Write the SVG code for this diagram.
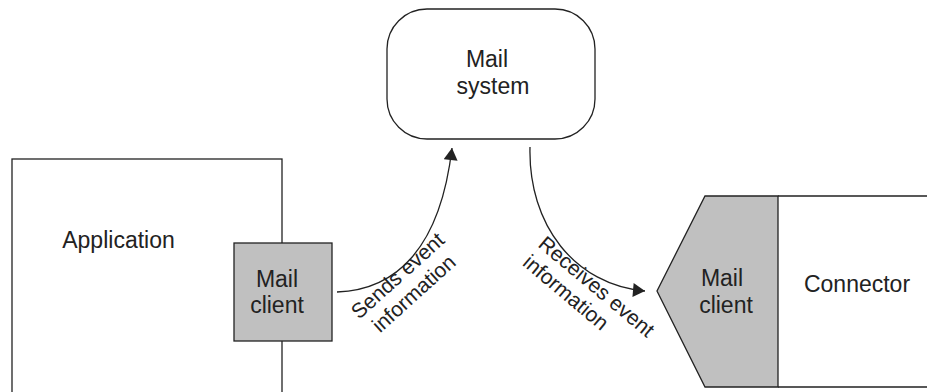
<svg xmlns="http://www.w3.org/2000/svg" width="927" height="392" viewBox="0 0 927 392">
<defs>
<style>
.shape{fill:#fff;stroke:#222;stroke-width:1.3}
.gray{fill:#c0c0c0;stroke:#222;stroke-width:1.3}
.lbl{font-family:"Liberation Sans",Arial,sans-serif;font-size:23px;fill:#222}
.elbl{font-family:"Liberation Sans",Arial,sans-serif;font-size:21px;fill:#222}
.conn{fill:none;stroke:#222;stroke-width:1.3}
</style>
<marker id="arrow" markerUnits="userSpaceOnUse" markerWidth="14" markerHeight="14" viewBox="0 0 12 14" refX="12" refY="7" orient="auto">
<path d="M0,0 L12,7 L0,14 Z" fill="#222"/>
</marker>
</defs>
<rect width="927" height="392" fill="#fff"/>
<g id="application">
<rect class="shape" x="12" y="159" width="270" height="260"/>
<text class="lbl" x="118.5" y="248" text-anchor="middle">Application</text>
</g>
<g id="mail-client-left">
<rect class="gray" x="234" y="243" width="98" height="98"/>
<text class="lbl" x="277" y="287" text-anchor="middle">Mail</text>
<text class="lbl" x="277" y="313" text-anchor="middle">client</text>
</g>
<g id="mail-system">
<rect class="shape" x="387" y="9" width="208" height="130" rx="40" ry="40"/>
<text class="lbl" x="487" y="67" text-anchor="middle">Mail</text>
<text class="lbl" x="493" y="94" text-anchor="middle">system</text>
</g>
<g id="connector">
<path class="shape" d="M778,196 L940,196 L940,387 L778,387"/>
<text class="lbl" x="857" y="292" text-anchor="middle">Connector</text>
</g>
<g id="mail-client-right">
<polygon class="gray" points="705,196 778,196 778,387 705,387 657,291"/>
<text class="lbl" x="722" y="286" text-anchor="middle">Mail</text>
<text class="lbl" x="726" y="313" text-anchor="middle">client</text>
</g>
<g id="connectors">
<path class="conn" d="M337,292 C395,290 440,250 452,148" marker-end="url(#arrow)"/>
<path class="conn" d="M530,147 C528,225 575,285 645,291" marker-end="url(#arrow)"/>
<g transform="translate(402.5,281) rotate(-42)">
<text class="elbl" x="0" y="0" text-anchor="middle">Sends event</text>
<text class="elbl" x="0" y="24" text-anchor="middle">information</text>
</g>
<g transform="translate(537,246) rotate(40)">
<text class="elbl" x="0" y="0">Receives event</text>
<text class="elbl" x="0" y="24">information</text>
</g>
</g>
</svg>
